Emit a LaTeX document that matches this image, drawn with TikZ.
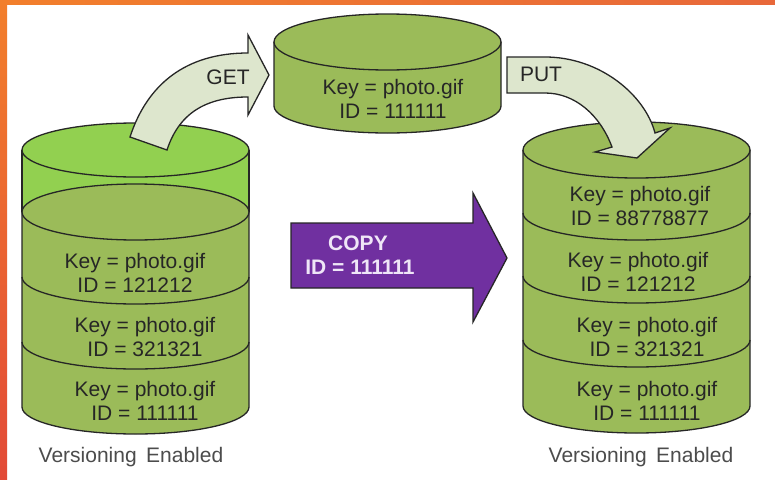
\documentclass[tikz,border=0pt]{standalone}
\usepackage{fontspec}
\setmainfont{Liberation Sans}
\usepackage{xcolor}
\usepackage{tikz}

\definecolor{olivegreen}{HTML}{9BBB59}
\definecolor{limegreen}{HTML}{92D050}
\definecolor{palegreen}{HTML}{DDE6CD}
\definecolor{copypurple}{HTML}{7030A0}
\definecolor{copytext}{HTML}{EFE6F7}
\definecolor{frametop}{HTML}{F27F2C}
\definecolor{frameright}{HTML}{E8683A}
\definecolor{framebottom}{HTML}{E24A37}

\tikzset{
    rim/.style={draw=black!85, line width=1.3pt},
    cyl/.style={rim, fill=olivegreen},
    bentarrow/.style={rim, fill=palegreen, line join=miter},
    keytext/.style={font=\fontsize{21}{24}\selectfont, align=center, text=black!85, inner sep=0pt},
    captext/.style={keytext, text=black!70},
    copylabel/.style={keytext, font=\fontsize{21}{24}\selectfont\bfseries, text=copytext}
}

\begin{document}
\begin{tikzpicture}[x=1pt, y=-1pt]
        \useasboundingbox (0,0) rectangle (775,479);
        \fill[white] (0,0) rectangle (775,479);
        \shade[left color=frametop, right color=frameright] (0,0) rectangle (775,4);
        \shade[top color=frametop, bottom color=framebottom] (0,0) rectangle (7,479);

        % source bucket
        \fill[limegreen] (22,150) rectangle (249,212);
        \draw[rim] (22,150) -- (22,212) (249,150) -- (249,212);
        \filldraw[cyl] (22,212) -- (22,407) arc[start angle=180, end angle=0, x radius=113.5, y radius=27] -- (249,212);
        \filldraw[cyl] (135.5,212) ellipse[x radius=113.5, y radius=28];
        \draw[rim] (22,277) arc[start angle=180, end angle=0, x radius=113.5, y radius=27];
        \draw[rim] (22,342) arc[start angle=180, end angle=0, x radius=113.5, y radius=27];
        \filldraw[cyl, fill=limegreen] (135.5,150) ellipse[x radius=113.5, y radius=27];
        \node[keytext] (lver1) at (135,273) {Key = photo.gif\\ID = 121212};
        \node[keytext] (lver2) at (145,337) {Key = photo.gif\\ID = 321321};
        \node[keytext] (lver3) at (145,401) {Key = photo.gif\\ID = 111111};
        \node[captext] (lcap) at (131,457) {Versioning\hspace{0.45em}Enabled};

        % object in transit
        \filldraw[cyl] (274,42) -- (274,106) arc[start angle=180, end angle=0, x radius=113.5, y radius=27] -- (501,42);
        \filldraw[cyl] (387.5,42) ellipse[x radius=113.5, y radius=28];
        \node[keytext] (obj) at (393,99) {Key = photo.gif\\ID = 111111};

        % target bucket
        \filldraw[cyl] (523,150) -- (523,406) arc[start angle=180, end angle=0, x radius=113.5, y radius=27] -- (750,150);
        \filldraw[cyl] (636.5,150) ellipse[x radius=113.5, y radius=28];
        \draw[rim] (523,213) arc[start angle=180, end angle=0, x radius=113.5, y radius=27];
        \draw[rim] (523,276) arc[start angle=180, end angle=0, x radius=113.5, y radius=27];
        \draw[rim] (523,340) arc[start angle=180, end angle=0, x radius=113.5, y radius=27];
        \node[keytext] (rver1) at (640,206) {Key = photo.gif\\ID = 88778877};
        \node[keytext] (rver2) at (638,272) {Key = photo.gif\\ID = 121212};
        \node[keytext] (rver3) at (647,337) {Key = photo.gif\\ID = 321321};
        \node[keytext] (rver4) at (647,401) {Key = photo.gif\\ID = 111111};
        \node[captext] (rcap) at (641,457) {Versioning\hspace{0.45em}Enabled};

        % GET and PUT
        \filldraw[bentarrow] (130,137) .. controls (147,85) and (185,53) .. (248,53) -- (248,35) -- (269,75)
            -- (248,115) -- (248,97) .. controls (210,97) and (180,110) .. (167,150) -- cycle;
        \node[keytext] (get) at (228,77) {GET};
        \filldraw[bentarrow] (507,57) -- (545,57) .. controls (600,57) and (645,95) .. (655,133) -- (670,128)
            -- (637,158) -- (595,152) -- (612,147) .. controls (600,115) and (575,93) .. (545,93) -- (507,93) -- cycle;
        \node[keytext] (put) at (541,74) {PUT};

        % COPY
        \filldraw[rim, fill=copypurple, line join=miter] (291,223) -- (473,223) -- (473,193) -- (507,258)
            -- (473,322) -- (473,288) -- (291,288) -- cycle;
        \node[copylabel] (copy) at (358,243) {COPY};
        \node[copylabel] (copyid) at (360,267) {ID = 111111};
    \end{tikzpicture}
\end{document}
